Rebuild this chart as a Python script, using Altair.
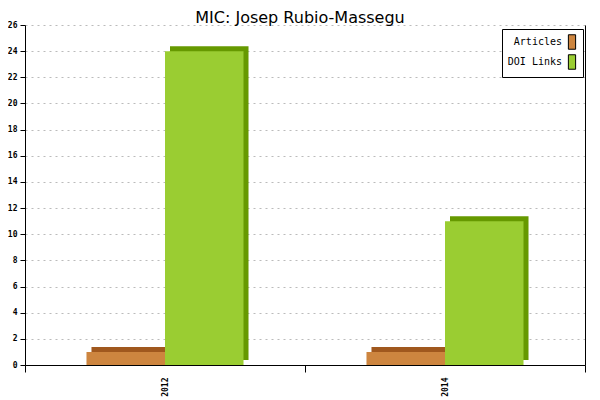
import altair as alt
import pandas as pd

# ---- data ----
years = ["2012", "2014"]
series = ["Articles", "DOI Links"]
articles = [1, 1]
doi_links = [24, 11]
y_ticks = list(range(0, 27, 2))
title_text = "MIC: Josep Rubio-Massegu"

front_colors = ["#cd853f", "#9acd32"]
dark_colors = ["#a0581e", "#669900"]

rows = []
for i, yr in enumerate(years):
    rows.append({"year": yr, "series": series[0], "value": articles[i]})
    rows.append({"year": yr, "series": series[1], "value": doi_links[i]})
df = pd.DataFrame(rows)

mono = "DejaVu Sans Mono"

x_enc = alt.X(
    "year:N",
    scale=alt.Scale(domain=years, paddingInner=0, paddingOuter=0),
    axis=alt.Axis(
        title=None,
        orient="bottom",
        tickBand="extent",
        tickSize=7,
        tickColor="black",
        domainColor="black",
        labelAngle=270,
        labelAlign="right",
        labelBaseline="middle",
        labelPadding=5,
        labelFont=mono,
        labelFontSize=8,
        labelFontWeight="bold",
        labelColor="black",
        grid=False,
    ),
)
y_scale = alt.Scale(domain=[0, 26], nice=False)

# depth face: same bars through a band scale shifted 5px right
shadow = alt.Chart(df).mark_bar(yOffset=-5, y2Offset=-2).encode(
    x=x_enc,
    xOffset=alt.XOffset(
        "series:N",
        scale=alt.Scale(domain=series, range=[5, 285], paddingInner=0, paddingOuter=0.783),
    ),
    y=alt.Y(
        "value:Q",
        scale=y_scale,
        axis=alt.Axis(
            orient="right", title=None, labels=False, ticks=False,
            grid=False, domainColor="black", values=y_ticks,
        ),
    ),
    color=alt.condition(
        alt.datum.series == series[0],
        alt.value(dark_colors[0]),
        alt.value(dark_colors[1]),
    ),
)

front = alt.Chart(df).mark_bar().encode(
    x=x_enc,
    xOffset=alt.XOffset(
        "series:N",
        scale=alt.Scale(domain=series, range=[0, 280], paddingInner=0, paddingOuter=0.783),
    ),
    y=alt.Y(
        "value:Q",
        scale=y_scale,
        axis=alt.Axis(
            orient="left",
            title=None,
            values=y_ticks,
            tickSize=5,
            tickColor="black",
            domainColor="black",
            labelFont=mono,
            labelFontSize=8,
            labelFontWeight="bold",
            labelColor="black",
            labelPadding=3,
            grid=True,
            gridColor="#bbbbbb",
            gridDash=[2, 4],
        ),
    ),
    color=alt.Color(
        "series:N",
        scale=alt.Scale(domain=series, range=front_colors),
        legend=alt.Legend(
            title=None,
            orient="none",
            legendX=477,
            legendY=4,
            fillColor="white",
            strokeColor="black",
            padding=5,
            symbolType="M-0.5,-1L0.5,-1L0.5,1L-0.5,1Z",
            symbolSize=210,
            symbolStrokeColor="black",
            symbolStrokeWidth=1,
            symbolOpacity=1,
            symbolOffset=57,
            labelFont=mono,
            labelFontSize=10,
            labelColor="black",
            labelAlign="right",
            labelOffset={"expr": "-18"},
            rowPadding=0,
        ),
    ),
)

title = alt.Chart(pd.DataFrame({"t": [title_text]})).mark_text(
    font="DejaVu Sans", fontSize=16, color="black",
    align="center", baseline="alphabetic",
).encode(text="t:N", x=alt.value(275), y=alt.value(-2))

chart = (
    alt.layer(shadow, front, title)
    .resolve_axis(y="independent")
    .resolve_scale(xOffset="independent")
    .properties(
        width=560,
        height=340,
        autosize=alt.AutoSizeParams(type="none"),
        padding={"left": 17, "top": 17, "right": 7, "bottom": 33},
    )
    .configure_view(stroke=None)
)

chart.save("out.html", embed_options={"renderer": "svg", "actions": False})
